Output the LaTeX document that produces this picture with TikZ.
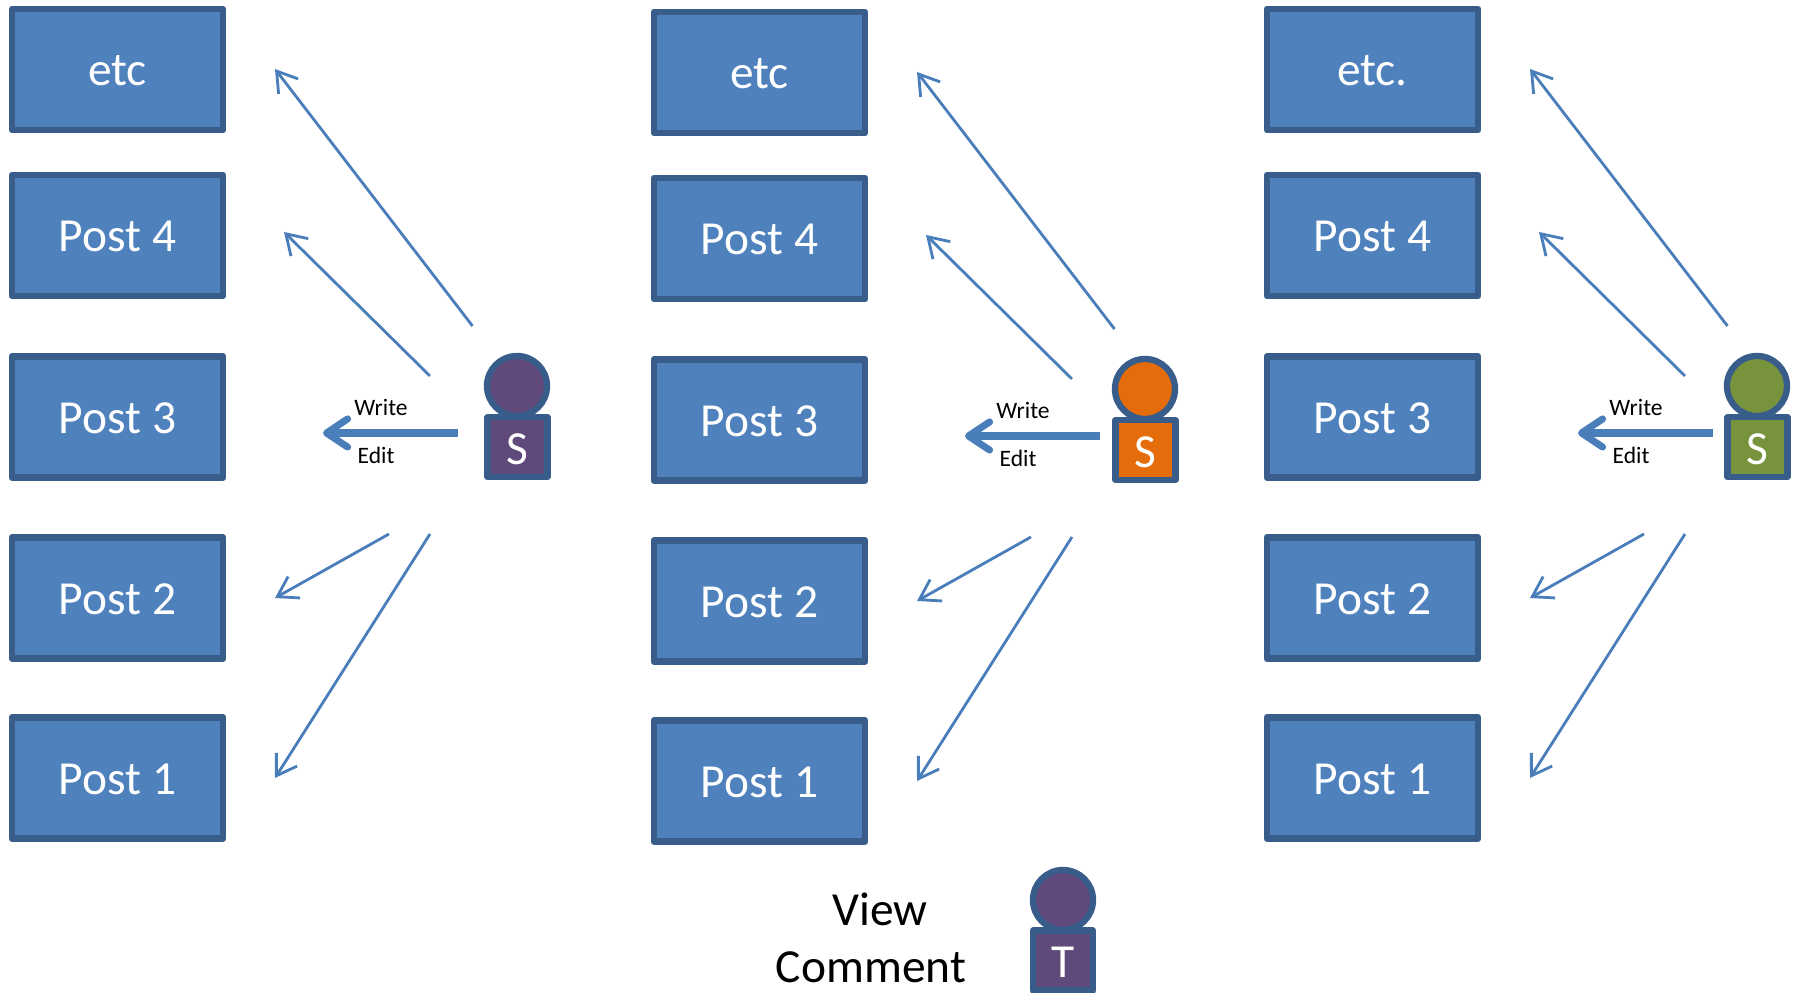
\documentclass[tikz,border=0pt]{standalone}
\usepackage{fontspec}
\setmainfont{Carlito}
\usetikzlibrary{arrows.meta}
\definecolor{boxfill}{HTML}{4F81BD}
\definecolor{boxline}{HTML}{385D8A}
\definecolor{arrowline}{HTML}{4A7EBB}
\definecolor{purplefill}{HTML}{604A7B}
\definecolor{orangefill}{HTML}{E46C0A}
\definecolor{greenfill}{HTML}{77933C}
\tikzset{
  postbox/.style={draw=boxline,fill=boxfill,line width=1.8pt,line join=round,minimum width=2.115cm,minimum height=1.21cm,inner sep=0pt,text=white,text height=9.3pt,text depth=0pt,font=\fontsize{13.5}{16}\selectfont},
  headnode/.style={circle,draw=boxline,line width=1.8pt,minimum size=0.6cm,inner sep=0pt},
  bodynode/.style={draw=boxline,line width=1.8pt,line join=round,minimum size=0.6cm,inner sep=0pt,text=white,text height=9.9pt,text depth=0pt,font=\fontsize{13.5}{16}\selectfont},
  thinarrow/.style={-{Straight Barb[length=5.5pt,width=7pt,line width=0.8pt]},arrowline,line width=0.8pt},
  fatarrow/.style={-{Straight Barb[length=6pt,width=8pt,round,line width=2pt]},arrowline,line width=2pt},
  smalllabel/.style={inner sep=0pt,font=\fontsize{6.7}{8}\selectfont},
  biglabel/.style={inner sep=0pt,font=\fontsize{13.5}{16}\selectfont}
}
\begin{document}
\begin{tikzpicture}
  \useasboundingbox (0,0) rectangle (17.94,9.93);

  % one column of posts, its student and the arrows
  \foreach \col/\dx/\dy/\px/\py/\hue/\top in {a/0/0/0/0/purplefill/etc,b/6.42/-0.03/6.28/-0.03/orangefill/etc,c/12.55/0/12.40/0/greenfill/etc.}{
    \begin{scope}[shift={(\dx,\dy)}]
      \node[postbox] (top\col) at (1.175,9.235) {\top};
      \node[postbox] (four\col) at (1.175,7.575) {Post 4};
      \node[postbox] (three\col) at (1.175,5.76) {Post 3};
      \node[postbox] (two\col) at (1.175,3.95) {Post 2};
      \node[postbox] (one\col) at (1.175,2.15) {Post 1};

      \coordinate (topfrom\col) at (4.725,6.67);
      \coordinate (topto\col) at (2.75,9.24);
      \coordinate (fourfrom\col) at (4.30,6.17);
      \coordinate (fourto\col) at (2.84,7.61);
      \coordinate (threefrom\col) at (4.58,5.60);
      \coordinate (threeto\col) at (3.23,5.60);
      \coordinate (twofrom\col) at (3.89,4.59);
      \coordinate (twoto\col) at (2.75,3.95);
      \coordinate (onefrom\col) at (4.30,4.59);
      \coordinate (oneto\col) at (2.75,2.15);

      \draw[thinarrow] (topfrom\col) -- (topto\col);
      \draw[thinarrow] (fourfrom\col) -- (fourto\col);
      \draw[fatarrow] (threefrom\col) -- (threeto\col);
      \draw[thinarrow] (twofrom\col) -- (twoto\col);
      \draw[thinarrow] (onefrom\col) -- (oneto\col);

      \node[smalllabel] (write\col) at (3.81,5.86) {Write};
      \node[smalllabel] (edit\col) at (3.76,5.38) {Edit};
    \end{scope}
    \node[headnode,fill=\hue] (head\col) at (5.17+\px,6.07+\py) {};
    \node[bodynode,fill=\hue] (body\col) at (5.175+\px,5.46+\py) {S};
  }

  \node[biglabel] (view) at (8.80,0.84) {View};
  \node[biglabel] (comment) at (8.71,0.26) {Comment};
  \node[headnode,fill=purplefill] (headt) at (10.63,0.93) {};
  \node[bodynode,fill=purplefill] (bodyt) at (10.63,0.325) {T};
\end{tikzpicture}
\end{document}
